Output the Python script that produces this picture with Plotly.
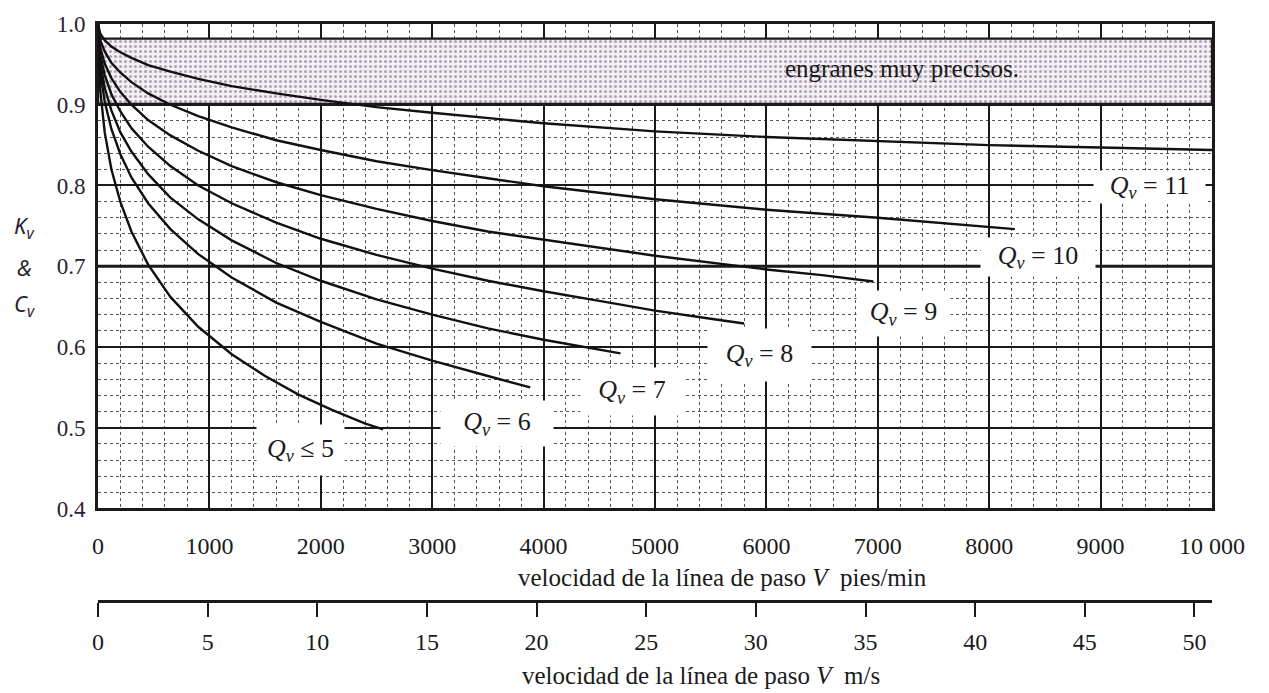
import plotly.graph_objects as go

# ---------------- data ----------------
V5 = [0, 20, 60, 120, 200, 300, 450, 650, 900, 1200, 1500, 1800, 2100, 2400, 2560]
K5 = [1.0, 0.918, 0.866, 0.820, 0.780, 0.743, 0.702, 0.662, 0.625, 0.591, 0.564, 0.541, 0.522, 0.505, 0.498]

V6 = [0, 20, 60, 120, 200, 300, 450, 650, 900, 1200, 1600, 2000, 2500, 3000, 3500, 3880]
K6 = [1.0, 0.942, 0.904, 0.870, 0.839, 0.810, 0.778, 0.746, 0.715, 0.686, 0.655, 0.631, 0.604, 0.583, 0.564, 0.550]

V7 = [0, 20, 60, 120, 200, 300, 450, 650, 900, 1200, 1600, 2000, 2500, 3000, 3500, 4000, 4690]
K7 = [1.0, 0.953, 0.921, 0.893, 0.866, 0.842, 0.814, 0.785, 0.758, 0.732, 0.704, 0.682, 0.659, 0.640, 0.623, 0.609, 0.592]

V8 = [0, 20, 60, 120, 200, 300, 450, 650, 900, 1200, 1600, 2000, 2500, 3000, 3500, 4000, 4500, 5000, 5500, 5800]
K8 = [1.0, 0.962, 0.937, 0.913, 0.892, 0.871, 0.848, 0.824, 0.800, 0.778, 0.754, 0.734, 0.714, 0.697, 0.682, 0.669, 0.657, 0.645, 0.635, 0.629]

V9 = [0, 20, 60, 120, 200, 300, 450, 650, 900, 1200, 1600, 2000, 2500, 3000, 3500, 4000, 5000, 6000, 6500, 6960]
K9 = [1.0, 0.971, 0.951, 0.933, 0.916, 0.900, 0.881, 0.862, 0.843, 0.824, 0.804, 0.788, 0.771, 0.756, 0.743, 0.733, 0.713, 0.696, 0.689, 0.681]

V10 = [0, 20, 60, 120, 200, 300, 450, 650, 900, 1200, 1600, 2000, 2500, 3000, 3500, 4000, 5000, 6000, 7000, 8000, 8230]
K10 = [1.0, 0.980, 0.966, 0.952, 0.940, 0.928, 0.914, 0.900, 0.886, 0.872, 0.856, 0.844, 0.830, 0.819, 0.809, 0.799, 0.783, 0.770, 0.760, 0.749, 0.746]

V11 = [0, 20, 60, 120, 200, 300, 450, 650, 900, 1200, 1600, 2000, 2500, 3000, 4000, 5000, 6000, 7000, 8000, 9000, 10000]
K11 = [1.0, 0.988, 0.980, 0.972, 0.965, 0.958, 0.949, 0.941, 0.932, 0.923, 0.914, 0.906, 0.897, 0.890, 0.877, 0.867, 0.860, 0.855, 0.850, 0.847, 0.844]

curve_labels = ["<i>Q</i><sub><i>v</i></sub> \u2264 5", "<i>Q</i><sub><i>v</i></sub> = 6",
                "<i>Q</i><sub><i>v</i></sub> = 7", "<i>Q</i><sub><i>v</i></sub> = 8",
                "<i>Q</i><sub><i>v</i></sub> = 9", "<i>Q</i><sub><i>v</i></sub> = 10",
                "<i>Q</i><sub><i>v</i></sub> = 11"]

band_V = [0, 10000]
band_K = [0.901, 0.982]
band_text = "engranes muy precisos."

x_ticks_fpm = [0, 1000, 2000, 3000, 4000, 5000, 6000, 7000, 8000, 9000, 10000]
x_ticktext_fpm = ["0", "1000", "2000", "3000", "4000", "5000", "6000", "7000", "8000", "9000", "10 000"]
x_ticks_ms = [0, 5, 10, 15, 20, 25, 30, 35, 40, 45, 50]
y_ticks = [0.4, 0.5, 0.6, 0.7, 0.8, 0.9, 1.0]
y_ticktext = ["0.4", "0.5", "0.6", "0.7", "0.8", "0.9", "1.0"]

# ---------------- figure ----------------
SERIF = "Liberation Serif, Times New Roman, serif"
INK = "#1a1a1a"
T, B = 15, 92
H = 693 - T - B

fig = go.Figure()

# shaded band "engranes muy precisos"
fig.add_trace(go.Scatter(
    x=[band_V[0], band_V[1], band_V[1], band_V[0], band_V[0]],
    y=[band_K[0], band_K[0], band_K[1], band_K[1], band_K[0]],
    mode="lines", fill="toself",
    fillcolor="#efe8f0",
    fillpattern=dict(shape=".", fgcolor="#6a5a70", bgcolor="#f5f0f5", size=5, solidity=0.3),
    line=dict(color=INK, width=2.2), hoverinfo="skip", showlegend=False))

for V, K in [(V5, K5), (V6, K6), (V7, K7), (V8, K8), (V9, K9), (V10, K10), (V11, K11)]:
    fig.add_trace(go.Scatter(x=V, y=K, mode="lines", line=dict(color="#111", width=2.4),
                             showlegend=False, hoverinfo="skip"))

# invisible trace to activate secondary (m/s) axis
fig.add_trace(go.Scatter(x=[0, 50.8], y=[0.4, 0.4], xaxis="x2", yaxis="y", mode="lines",
                         line=dict(width=0), opacity=0, showlegend=False, hoverinfo="skip"))

# thicker 0.7 line
fig.add_shape(type="line", xref="x", yref="y", x0=0, x1=10000, y0=0.7, y1=0.7,
              line=dict(color=INK, width=3), layer="below")

# curve labels with white boxes (data coords)
lab_pos = [(1822, 0.472, 87, 50), (3582, 0.505, 112, 45), (4794, 0.545, 102, 47),
           (5934, 0.590, 103, 52), (7235, 0.641, 93, 45), (8440, 0.711, 114, 38),
           (9435, 0.798, 111, 32)]
for txt, (lx, ly, w, h) in zip(curve_labels, lab_pos):
    fig.add_annotation(x=lx, y=ly, xref="x", yref="y", text=txt, showarrow=False,
                       xanchor="center", yanchor="middle",
                       bgcolor="white", width=w, height=h, borderpad=0,
                       font=dict(family=SERIF, size=26, color=INK))

fig.add_annotation(x=7217, y=0.945, xref="x", yref="y", text=band_text, showarrow=False,
                   xanchor="center", yanchor="middle",
                   font=dict(family=SERIF, size=25, color=INK))

# y-axis title K_v & C_v
for t, yy in [("<i>K</i><sub><i>v</i></sub>", 0.748), ("<i>&</i>", 0.699), ("<i>C</i><sub><i>v</i></sub>", 0.652)]:
    fig.add_annotation(x=-0.066, y=yy, xref="paper", yref="y", text=t, showarrow=False,
                       xanchor="center", yanchor="middle",
                       font=dict(family="Noto Sans, DejaVu Sans, sans-serif", size=22, color="#2a2230"))

# axis titles (pixel rows converted to paper fraction)
fig.add_annotation(x=(722 - 98) / 1114, y=(693 - B - 577) / H, xref="paper", yref="paper",
                   text="velocidad de la línea de paso <i>V</i>  pies/min", showarrow=False,
                   xanchor="center", yanchor="middle",
                   font=dict(family=SERIF, size=25, color=INK))
fig.add_annotation(x=(701 - 98) / 1114, y=(693 - B - 677) / H, xref="paper", yref="paper",
                   text="velocidad de la línea de paso <i>V</i>  m/s", showarrow=False,
                   xanchor="center", yanchor="middle",
                   font=dict(family=SERIF, size=25, color=INK))

fig.update_layout(
    width=1269, height=693,
    margin=dict(l=98, r=57, t=T, b=B),
    paper_bgcolor="white", plot_bgcolor="white",
    showlegend=False,
    xaxis=dict(range=[0, 10000], domain=[0, 1], anchor="y",
               tickvals=x_ticks_fpm, ticktext=x_ticktext_fpm, ticks="", ticklabelstandoff=14,
               tickfont=dict(family=SERIF, size=24, color=INK),
               showgrid=True, gridcolor=INK, gridwidth=1.8,
               minor=dict(dtick=200, showgrid=True, gridcolor="#555", gridwidth=1, griddash="dot"),
               showline=True, linecolor=INK, linewidth=2.6, mirror=True, zeroline=False),
    xaxis2=dict(range=[0, 50.8], overlaying="x", anchor="free", position=0, side="bottom",
                tickvals=x_ticks_ms, ticks="outside", ticklen=14, tickwidth=2, tickcolor=INK,
                ticklabelstandoff=4,
                tickfont=dict(family=SERIF, size=24, color=INK),
                showgrid=False, showline=True, linecolor=INK, linewidth=2.6, zeroline=False),
    yaxis=dict(range=[0.4, 1.0], domain=[(693 - B - 507) / H, 1],
               tickvals=y_ticks, ticktext=y_ticktext, ticks="", ticklabelstandoff=5,
               tickfont=dict(family=SERIF, size=23, color="#2a2230"),
               showgrid=True, gridcolor=INK, gridwidth=1.8,
               minor=dict(dtick=0.02, showgrid=True, gridcolor="#555", gridwidth=1, griddash="dot"),
               showline=True, linecolor=INK, linewidth=2.6, mirror=True, zeroline=False),
)

fig.write_html("out.html", config={"displayModeBar": False},
               post_script="document.body.style.margin='0';document.body.style.overflow='hidden';")
